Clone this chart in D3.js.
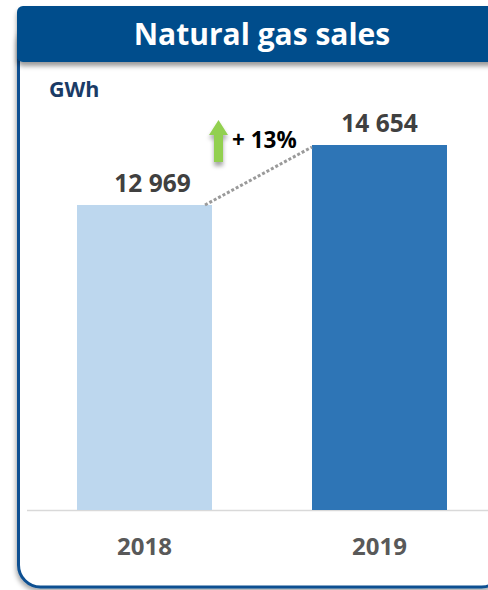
<!DOCTYPE html>
<html><head><meta charset="utf-8">
<script src="https://cdn.jsdelivr.net/npm/d3@7"></script>
<style>html,body{margin:0;padding:0;background:#fff;}svg{display:block;}</style>
</head><body>
<svg id="chart" width="488" height="590"></svg>
<script>
const title = "Natural gas sales";
const unit = "GWh";
const years = ["2018", "2019"];
const sales = [12969, 14654];
const valueLabels = ["12 969", "14 654"];
const changeLabel = "+ 13%";
const barColors = ["#bdd7ee", "#2e75b6"];

const svg = d3.select("#chart");
const font = "'Open Sans', Lato, sans-serif";

const defs = svg.append("defs");
const f = defs.append("filter").attr("id","shadow").attr("x","-20%").attr("y","-20%").attr("width","140%").attr("height","140%");
f.append("feDropShadow").attr("dx",-1).attr("dy",3).attr("stdDeviation",2.5).attr("flood-color","#000").attr("flood-opacity",0.35);
const f2 = defs.append("filter").attr("id","ashadow").attr("x","-50%").attr("y","-50%").attr("width","200%").attr("height","200%");
f2.append("feDropShadow").attr("dx",0).attr("dy",4).attr("stdDeviation",2).attr("flood-color","#000").attr("flood-opacity",0.35);
const f3 = defs.append("filter").attr("id","hshadow").attr("x","-5%").attr("y","-20%").attr("width","110%").attr("height","150%");
f3.append("feDropShadow").attr("dx",0).attr("dy",4).attr("stdDeviation",2.5).attr("flood-color","#000").attr("flood-opacity",0.4);

// Frame
svg.append("rect").attr("x",18.5).attr("y",20).attr("width",485).attr("height",567)
  .attr("rx",22).attr("fill","#fff").attr("stroke","#0d5091").attr("stroke-width",3)
  .attr("filter","url(#shadow)");

// Header
svg.append("rect").attr("x",17).attr("y",6).attr("width",490).attr("height",56)
  .attr("rx",6).attr("fill","#034d8c").attr("filter","url(#hshadow)");
svg.append("text").attr("x",262).attr("y",45).attr("text-anchor","middle")
  .attr("font-family",font).attr("font-weight","bold").attr("font-size",30)
  .attr("fill","#fff").text(title);

svg.append("text").attr("x",49).attr("y",97)
  .attr("font-family",font).attr("font-weight","bold").attr("font-size",21.5)
  .attr("fill","#1a3b66").text(unit);

// Scales
const y = d3.scaleLinear().domain([4400, 14654]).range([510, 145]);
const xc = d3.scalePoint().domain(years).range([144.5, 379.5]);
const barW = 135;

// Baseline
svg.append("line").attr("x1",27).attr("x2",488).attr("y1",510.5).attr("y2",510.5)
  .attr("stroke","#d9d9d9").attr("stroke-width",1.5);

// Bars
svg.selectAll("rect.bar").data(years).join("rect").attr("class","bar")
  .attr("x", d => xc(d) - barW/2).attr("width", barW)
  .attr("y", (d,i) => y(sales[i])).attr("height", (d,i) => y(4400) - y(sales[i]))
  .attr("fill", (d,i) => barColors[i]);

// Value labels
const labelDx = [8, 0];
svg.selectAll("text.val").data(years).join("text").attr("class","val")
  .attr("x", (d,i) => xc(d) + labelDx[i]).attr("y", (d,i) => y(sales[i]) - 13)
  .attr("text-anchor","middle").attr("font-family",font).attr("font-weight","bold")
  .attr("font-size",24.5).attr("fill","#404040").text((d,i) => valueLabels[i]);

// Year labels
svg.selectAll("text.year").data(years).join("text").attr("class","year")
  .attr("x", d => xc(d)).attr("y", 555)
  .attr("text-anchor","middle").attr("font-family",font).attr("font-weight","bold")
  .attr("font-size",24).attr("fill","#595959").text(d => d);

// Dotted connector
const x0 = xc(years[0]) + barW/2 - 7, y0 = y(sales[0]);
const x1 = xc(years[1]) - barW/2, y1 = y(sales[1]) + 2;
svg.append("line").attr("x1",x0).attr("y1",y0).attr("x2",x1).attr("y2",y1)
  .attr("stroke","#9a9a9a").attr("stroke-width",3).attr("stroke-dasharray","3,2");

// Arrow
const ax = 218.5;
svg.append("path")
  .attr("d", `M${ax},120 L${ax+9.5},135 L${ax+4.5},135 L${ax+4.5},162 L${ax-4.5},162 L${ax-4.5},135 L${ax-9.5},135 Z`)
  .attr("fill","#92d050").attr("filter","url(#ashadow)");
svg.append("text").attr("x",232).attr("y",148)
  .attr("font-family",font).attr("font-weight","bold").attr("font-size",22.5)
  .attr("fill","#000").text(changeLabel);
</script>
</body></html>
